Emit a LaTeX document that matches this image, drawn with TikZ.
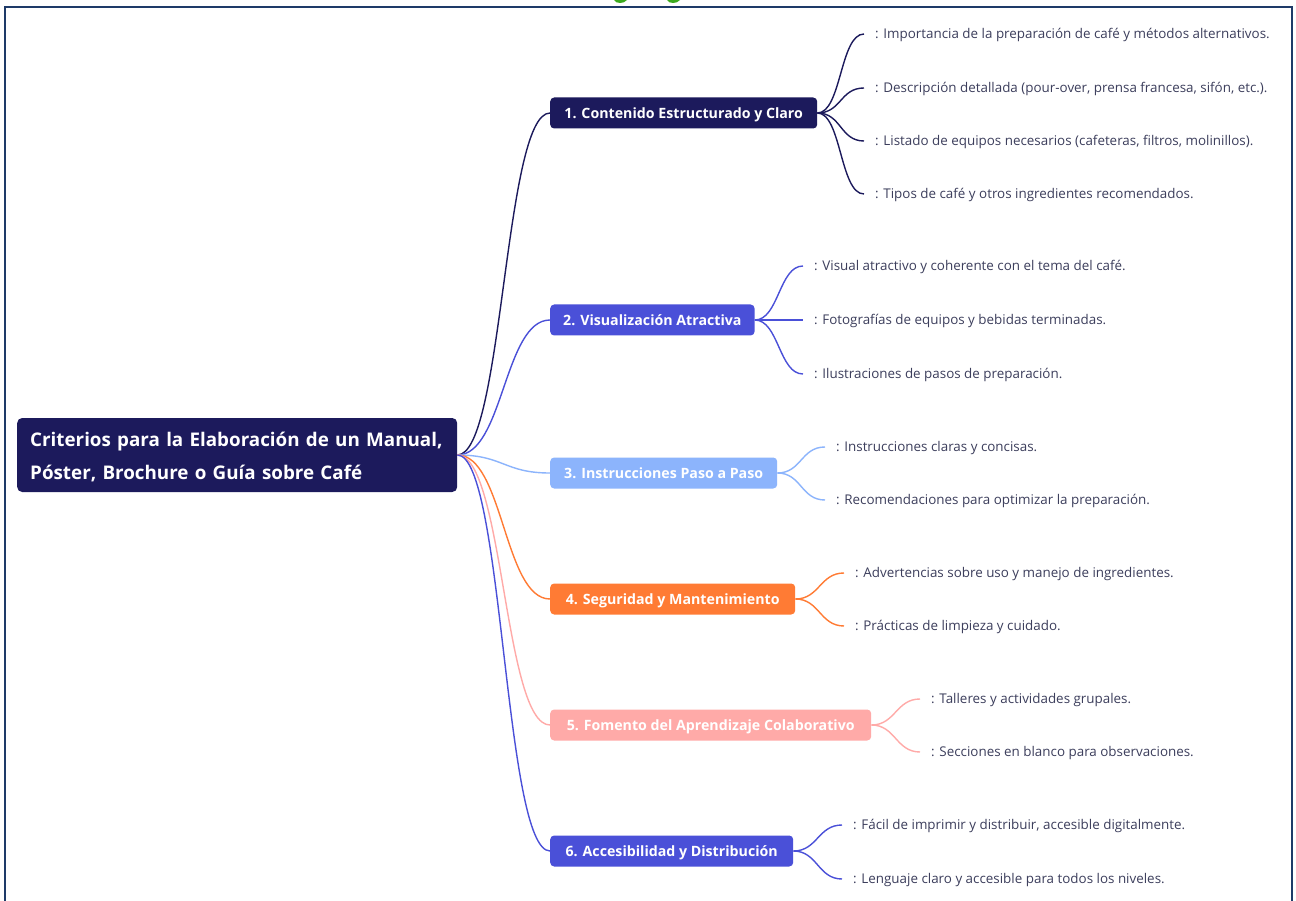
\documentclass[tikz,border=0pt]{standalone}
\usepackage{fontspec}
\setmainfont{Open Sans}
\usetikzlibrary{calc}
\definecolor{navy}{RGB}{28,26,92}
\definecolor{royal}{RGB}{74,80,216}
\definecolor{sky}{RGB}{140,180,252}
\definecolor{orng}{RGB}{255,123,52}
\definecolor{pinkc}{RGB}{255,170,168}
\definecolor{leaftxt}{RGB}{60,62,92}
\definecolor{framec}{RGB}{30,58,104}
\definecolor{grn}{RGB}{60,170,30}
\begin{document}
\begin{tikzpicture}[x=1pt,y=-1pt,
  mainbox/.style={fill=#1, text=white, rounded corners=4pt, anchor=west,
    minimum height=31pt, inner xsep=13pt, inner ysep=0pt,
    text height=11pt, text depth=0pt,
    font=\fontsize{14.2}{17}\selectfont\bfseries},
  leaf/.style={anchor=west, text=leaftxt, inner xsep=11pt, inner ysep=0pt,
    text height=9.6pt, text depth=0pt,
    font=\fontsize{13.4}{16}\selectfont},
  link/.style={draw=#1, line width=1.4pt},
]
\useasboundingbox (0,0) rectangle (1296,901);
\fill[white] (0,0) rectangle (1296,901);
\draw[framec, line width=2pt] (5,905) -- (5,7) -- (1292,7) -- (1292,905);
\fill[grn] (614,0) .. controls (616,4) and (624,4) .. (627,0) -- cycle;
\fill[grn] (667,0) .. controls (669,4) and (677,4) .. (680,0) -- cycle;

% root
\node[fill=navy, text=white, rounded corners=5pt, anchor=west,
  text width=414pt, align=left, inner xsep=13pt, minimum height=74pt,
  text height=14pt, text depth=30.6pt,
  font=\fontsize{18.8}{33}\selectfont\bfseries] (root) at (17,455)
  {Criterios para la Elaboración de un Manual,\\Póster, Brochure o Guía sobre Café};

% main branches
\node[mainbox=navy,  minimum width=267pt] (b1) at (550,113) {1. Contenido Estructurado y Claro};
\node[mainbox=royal, minimum width=204pt] (b2) at (550,320) {2. Visualización Atractiva};
\node[mainbox=sky,   minimum width=227pt] (b3) at (550,473) {3. Instrucciones Paso a Paso};
\node[mainbox=orng,  minimum width=245pt] (b4) at (550,599) {4. Seguridad y Mantenimiento};
\node[mainbox=pinkc, minimum width=321pt] (b5) at (550,725) {5. Fomento del Aprendizaje Colaborativo};
\node[mainbox=royal, minimum width=243pt] (b6) at (550,851) {6. Accesibilidad y Distribución};

% leaves
\node[leaf] (l11) at (864,34)  {: Importancia de la preparación de café y métodos alternativos.};
\node[leaf] (l12) at (864,88)  {: Descripción detallada (pour-over, prensa francesa, sifón, etc.).};
\node[leaf] (l13) at (864,141) {: Listado de equipos necesarios (cafeteras, filtros, molinillos).};
\node[leaf] (l14) at (864,194) {: Tipos de café y otros ingredientes recomendados.};
\node[leaf] (l21) at (803,266) {: Visual atractivo y coherente con el tema del café.};
\node[leaf] (l22) at (803,320) {: Fotografías de equipos y bebidas terminadas.};
\node[leaf] (l23) at (803,374) {: Ilustraciones de pasos de preparación.};
\node[leaf] (l31) at (825,447) {: Instrucciones claras y concisas.};
\node[leaf] (l32) at (825,500) {: Recomendaciones para optimizar la preparación.};
\node[leaf] (l41) at (844,573) {: Advertencias sobre uso y manejo de ingredientes.};
\node[leaf] (l42) at (844,626) {: Prácticas de limpieza y cuidado.};
\node[leaf] (l51) at (920,699) {: Talleres y actividades grupales.};
\node[leaf] (l52) at (920,752) {: Secciones en blanco para observaciones.};
\node[leaf] (l61) at (842,825) {: Fácil de imprimir y distribuir, accesible digitalmente.};
\node[leaf] (l62) at (842,879) {: Lenguaje claro y accesible para todos los niveles.};

% root links
\draw[link=navy]  (root.east) .. controls +(46,0) and +(-46,0) .. (b1.west);
\draw[link=royal] (root.east) .. controls +(46,0) and +(-46,0) .. (b2.west);
\draw[link=sky]   (root.east) .. controls +(46,0) and +(-46,0) .. (b3.west);
\draw[link=orng]  (root.east) .. controls +(46,0) and +(-46,0) .. (b4.west);
\draw[link=pinkc] (root.east) .. controls +(46,0) and +(-46,0) .. (b5.west);
\draw[link=royal] (root.east) .. controls +(46,0) and +(-46,0) .. (b6.west);

% leaf links
\foreach \l in {l11,l12,l13,l14}
  \draw[link=navy] (b1.east) .. controls +(24,0) and +(-24,0) .. (\l.west);
\foreach \l in {l21,l22,l23}
  \draw[link=royal] (b2.east) .. controls +(24,0) and +(-24,0) .. (\l.west);
\foreach \l in {l31,l32}
  \draw[link=sky] (b3.east) .. controls +(24,0) and +(-24,0) .. (\l.west);
\foreach \l in {l41,l42}
  \draw[link=orng] (b4.east) .. controls +(24,0) and +(-24,0) .. (\l.west);
\foreach \l in {l51,l52}
  \draw[link=pinkc] (b5.east) .. controls +(24,0) and +(-24,0) .. (\l.west);
\foreach \l in {l61,l62}
  \draw[link=royal] (b6.east) .. controls +(24,0) and +(-24,0) .. (\l.west);
\end{tikzpicture}
\end{document}
